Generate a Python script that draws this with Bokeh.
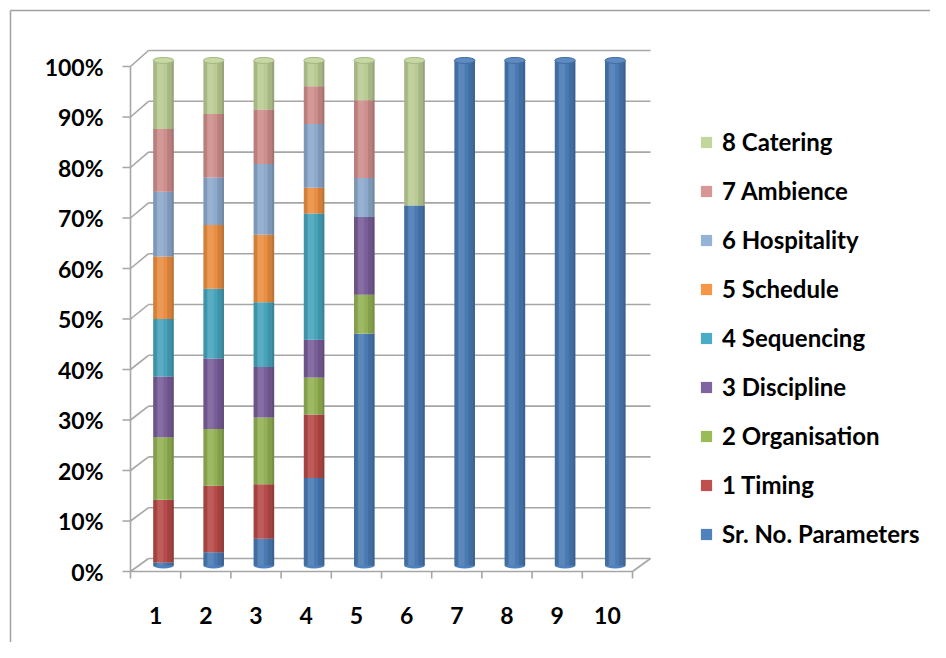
from bokeh.plotting import figure
from bokeh.models import Range1d, Legend, LegendItem
from bokeh.core.properties import value
from bokeh.embed import file_html
from bokeh.resources import INLINE

# ---------------- data (percent of each column) ----------------
categories = ["1", "2", "3", "4", "5", "6", "7", "8", "9", "10"]
series_names = ["Sr. No. Parameters", "1 Timing", "2 Organisation", "3 Discipline",
                "4 Sequencing", "5 Schedule", "6 Hospitality", "7 Ambience", "8 Catering"]
sr_no = [0.6, 2.6, 5.3, 17.3, 45.9, 71.3, 100, 100, 100, 100]
timing = [12.4, 13.2, 10.8, 12.6, 0, 0, 0, 0, 0, 0]
organisation = [12.4, 11.2, 13.2, 7.3, 7.7, 0, 0, 0, 0, 0]
discipline = [12.0, 14.0, 10.0, 7.5, 15.4, 0, 0, 0, 0, 0]
sequencing = [11.4, 13.8, 12.8, 25.0, 0, 0, 0, 0, 0, 0]
schedule = [12.4, 12.6, 13.4, 5.1, 0, 0, 0, 0, 0, 0]
hospitality = [12.8, 9.4, 14.0, 12.6, 7.7, 0, 0, 0, 0, 0]
ambience = [12.4, 12.6, 10.8, 7.5, 15.4, 0, 0, 0, 0, 0]
catering = [13.6, 10.6, 9.7, 5.1, 7.9, 28.7, 0, 0, 0, 0]
y_ticks = [0, 10, 20, 30, 40, 50, 60, 70, 80, 90, 100]
y_tick_labels = ["0%", "10%", "20%", "30%", "40%", "50%", "60%", "70%", "80%", "90%", "100%"]

series_values = [sr_no, timing, organisation, discipline, sequencing,
                 schedule, hospitality, ambience, catering]
colors = ["#4F81BD", "#C0504D", "#9BBB59", "#8064A2", "#4BACC6",
          "#F79646", "#95B3D7", "#D99694", "#C3D69B"]

# ---------------- geometry / style ----------------
W, H = 930, 642
PXX = 50.2          # px per category unit
PXY = 5.05          # px per percent
ORIG_X = 130        # canvas x of front value axis
ORIG_Y = 71         # canvas px from bottom of front floor line
DEPTH_X = 18 / PXX  # back wall offset
DEPTH_Y = 13 / PXY
BACK_SCALE = 508 / 505
BAR_DX = 0.157
BAR_DY = 1.2
BAR_W = 0.41
GRID = "#A6A6A6"
FONT = "Lato"

x0 = -ORIG_X / PXX
x1 = (W - ORIG_X) / PXX
y0 = -ORIG_Y / PXY
y1 = (H - ORIG_Y) / PXY

p = figure(width=W, height=H, x_range=Range1d(x0, x1), y_range=Range1d(y0, y1),
           output_backend="svg", toolbar_location=None,
           x_axis_location=None, y_axis_location=None, min_border=0)
p.outline_line_color = None
p.grid.visible = False
p.background_fill_color = "white"
p.border_fill_color = "white"

n = len(categories)

# outer chart-area border (left and top visible)
bx = (10 - ORIG_X) / PXX
by = (H - 10 - ORIG_Y) / PXY
p.segment(x0=[bx, bx], y0=[y0, by], x1=[bx, x1], y1=[by, by], line_color="#A0A0A0", line_width=1.5)

# back wall gridlines + side wall diagonals
back_y = [DEPTH_Y + v * BACK_SCALE for v in y_ticks]
p.segment(x0=[DEPTH_X] * len(y_ticks), y0=back_y, x1=[n + DEPTH_X] * len(y_ticks), y1=back_y,
          line_color=GRID, line_width=1.6)
p.segment(x0=[0] * len(y_ticks), y0=y_ticks, x1=[DEPTH_X] * len(y_ticks), y1=back_y,
          line_color=GRID, line_width=1.6)
# front value axis + ticks
p.segment(x0=[0], y0=[0], x1=[0], y1=[100], line_color=GRID, line_width=1.6)
p.segment(x0=[-8 / PXX] * len(y_ticks), y0=y_ticks, x1=[0] * len(y_ticks), y1=y_ticks,
          line_color=GRID, line_width=1.6)
# floor front edge + right edge + category ticks
p.segment(x0=[0, n], y0=[0, 0], x1=[n, n + DEPTH_X], y1=[0, DEPTH_Y], line_color=GRID, line_width=1.6)
bounds = list(range(n + 1))
p.segment(x0=bounds, y0=[0] * len(bounds), x1=bounds, y1=[-7 / PXY] * len(bounds),
          line_color=GRID, line_width=1.6)

# ---------------- cylinders ----------------
xc = [i + 1 - 0.5 + BAR_DX for i in range(n)]


def lighten(hexc, f):
    r, g, b = int(hexc[1:3], 16), int(hexc[3:5], 16), int(hexc[5:7], 16)
    r, g, b = [int(c + (255 - c) * f) for c in (r, g, b)]
    return "#%02x%02x%02x" % (r, g, b)


def darken(hexc, f):
    r, g, b = int(hexc[1:3], 16), int(hexc[3:5], 16), int(hexc[5:7], 16)
    r, g, b = [int(c * (1 - f)) for c in (r, g, b)]
    return "#%02x%02x%02x" % (r, g, b)


cap_h = 6 / PXY
first_col = []
last_col = []
for i in range(n):
    nz = [j for j in range(len(series_values)) if series_values[j][i] > 0]
    first_col.append(colors[nz[0]])
    last_col.append(colors[nz[-1]])

# bottom rounding
p.ellipse(x=xc, y=[BAR_DY] * n, width=BAR_W, height=cap_h, fill_color=first_col,
          line_color=None)

renderers = []
cum = [0.0] * n
for j, vals in enumerate(series_values):
    bottoms = [BAR_DY + c for c in cum]
    tops = [BAR_DY + c + v for c, v in zip(cum, vals)]
    r = p.vbar(x=xc, bottom=bottoms, top=tops, width=BAR_W, fill_color=colors[j],
               line_color=None)
    renderers.append(r)
    cum = [c + v for c, v in zip(cum, vals)]

tot_top = [BAR_DY + c for c in cum]
bot = [BAR_DY] * n
# cylinder shading
p.vbar(x=xc, bottom=bot, top=tot_top, width=BAR_W,
       fill_color="black", fill_alpha=0.05, line_color=None)
p.vbar(x=[x - 0.17 for x in xc], bottom=bot, top=tot_top, width=0.07,
       fill_color="black", fill_alpha=0.10, line_color=None)
p.vbar(x=[x - 0.06 for x in xc], bottom=bot, top=tot_top, width=0.12,
       fill_color="white", fill_alpha=0.10, line_color=None)
p.vbar(x=[x + 0.14 for x in xc], bottom=bot, top=tot_top, width=0.13,
       fill_color="black", fill_alpha=0.10, line_color=None)
p.vbar(x=[x + 0.185 for x in xc], bottom=bot, top=tot_top, width=0.04,
       fill_color="black", fill_alpha=0.10, line_color=None)
# top cap
p.ellipse(x=xc, y=tot_top, width=BAR_W, height=cap_h,
          fill_color=[lighten(c, 0.08) for c in last_col],
          line_color=[darken(c, 0.15) for c in last_col], line_width=1)

# ---------------- text ----------------
p.text(x=[-27 / PXX] * len(y_ticks), y=y_ticks, text=y_tick_labels, text_align="right",
       text_baseline="middle", text_font=value(FONT), text_font_style="bold",
       text_font_size="23px", text_color="#000000")
p.text(x=[i + 0.5 for i in range(n)], y=[-44 / PXY] * n, text=categories, text_align="center",
       text_baseline="middle", text_font=value(FONT), text_font_style="bold",
       text_font_size="23px", text_color="#000000")

# ---------------- legend ----------------
items = [LegendItem(label=series_names[j], renderers=[renderers[j]])
         for j in reversed(range(len(series_names)))]
legend = Legend(items=items, location=(699, 94), orientation="vertical",
                label_text_font=FONT, label_text_font_style="bold",
                label_text_font_size="24px", label_text_color="#000000",
                glyph_width=14, glyph_height=14, label_standoff=9,
                label_height=20, spacing=20, padding=0, margin=0,
                border_line_color=None, background_fill_alpha=0)
p.add_layout(legend)

open("out.html", "w").write(file_html(p, INLINE))
